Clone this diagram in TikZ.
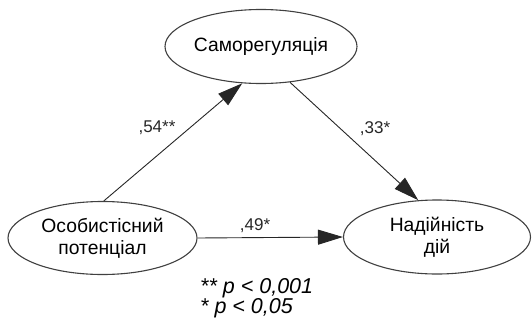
\documentclass[tikz,border=0pt]{standalone}
\usepackage{fontspec}
\setmainfont{Liberation Sans}
\usetikzlibrary{shapes.geometric,arrows.meta}
\begin{document}
\begin{tikzpicture}[x=1pt,y=1pt,
  var/.style={ellipse,draw=black!75,line width=1.1pt,inner sep=0pt,align=center,
    font=\fontsize{19.3}{22}\selectfont},
  path/.style={draw=black!85,line width=0.9pt,-{Triangle[length=25pt,width=15pt]}},
  coef/.style={font=\fontsize{17}{20}\selectfont,text=black!85},
  legend/.style={font=\fontsize{21.5}{20}\selectfont\itshape,anchor=west,inner sep=0pt}]
\useasboundingbox (0,0) rectangle (532,325);
\node[var,minimum width=192pt,minimum height=74pt] (top) at (261,278.5) {Саморегуляція};
\node[var,minimum width=189pt,minimum height=73pt] (left) at (102.5,87) {Особистісний\\потенціал};
\node[var,minimum width=187pt,minimum height=74pt] (right) at (437,88) {Надійність\\дій};
\draw[path] (left.88) -- (top.243);
\draw[path] (top.309) -- (right.117);
\draw[path] (left.east) -- (right.west);
\node[coef] (c1) at (157,197) {,54**};
\node[coef] (c2) at (375,196) {,33*};
\node[coef] (c3) at (255,99) {,49*};
\node[legend] (l1) at (200,37) {** p < 0,001};
\node[legend] (l2) at (200,17) {* p < 0,05};
\end{tikzpicture}
\end{document}
